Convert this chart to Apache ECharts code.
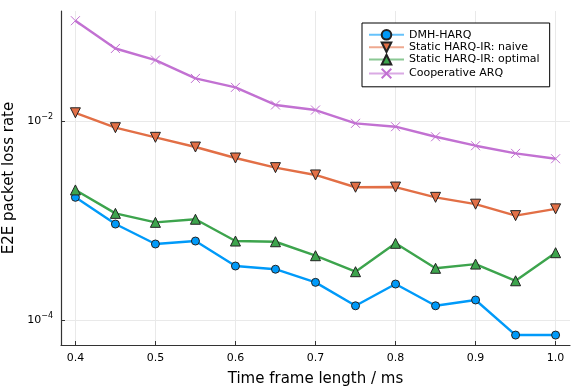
<!DOCTYPE html>
<html>
<head>
<meta charset="utf-8">
<script src="https://cdn.jsdelivr.net/npm/echarts@6/dist/echarts.min.js"></script>
<style>
  html, body { margin: 0; padding: 0; background: #fff; }
  #chart { width: 581px; height: 388px; }
</style>
</head>
<body>
<div id="chart"></div>
<script>
const frameLen = [0.4, 0.45, 0.5, 0.55, 0.6, 0.65, 0.7, 0.75, 0.8, 0.85, 0.9, 0.95, 1.0];

const dmhHarq = [0.00171, 0.000922, 0.000581, 0.000622, 0.000349, 0.000324, 0.000239,
    0.000139, 0.000230, 0.000139, 0.000159, 0.0000706, 0.0000706];
const staticNaive = [0.0121, 0.00857, 0.00686, 0.00548, 0.00425, 0.00340, 0.00287,
    0.00216, 0.00217, 0.00171, 0.00146, 0.00112, 0.00131];
const staticOptimal = [0.00203, 0.00118, 0.000959, 0.00103, 0.000622, 0.000612, 0.000443,
    0.000306, 0.000590, 0.000331, 0.000365, 0.000248, 0.000475];
const coopArq = [0.1019, 0.0536, 0.0410, 0.0268, 0.0218, 0.0145, 0.0129,
    0.00948, 0.00877, 0.00695, 0.00565, 0.00473, 0.00418];

const xTicks = [0.4, 0.5, 0.6, 0.7, 0.8, 0.9, 1.0];
const yTicks = [1e-4, 1e-2];

const names = ['DMH-HARQ', 'Static HARQ-IR: naive', 'Static HARQ-IR: optimal', 'Cooperative ARQ'];
const colors = ['#009af9', '#e26f46', '#3da44d', '#c271d2'];

const font = '"DejaVu Sans", sans-serif';
const crossPath = 'path://M0,0L10,10M10,0L0,10';

function toPairs(ys) {
    return frameLen.map((x, i) => [x, ys[i]]);
}

function makeSeries(idx, ys, symbol, size, extra) {
    return Object.assign({
        name: names[idx],
        type: 'line',
        data: toPairs(ys),
        symbol: symbol,
        symbolSize: size,
        showAllSymbol: true,
        lineStyle: { color: colors[idx], width: 2.4 },
        itemStyle: { color: colors[idx], borderColor: '#222', borderWidth: 1 },
        emphasis: { disabled: true },
        animation: false
    }, extra || {});
}

const chart = echarts.init(document.getElementById('chart'), null, { renderer: 'canvas' });

const option = {
    backgroundColor: '#fff',
    animation: false,
    grid: { left: 61, right: 11, top: 11, bottom: 43, outerBoundsMode: 'none', containLabel: false },
    legend: {
        left: 362,
        top: 23,
        orient: 'vertical',
        data: names,
        itemWidth: 35,
        itemHeight: 12,
        itemGap: 0.8,
        padding: [6, 10, 6, 6],
        borderColor: '#000',
        borderWidth: 1,
        borderRadius: 0,
        backgroundColor: '#fff',
        lineStyle: { opacity: 0.6 },
        textStyle: { fontFamily: font, fontSize: 11, color: '#000' }
    },
    xAxis: {
        type: 'value',
        min: 0.382,
        max: 1.018,
        name: 'Time frame length / ms',
        nameLocation: 'middle',
        nameGap: 27,
        nameTextStyle: { fontFamily: font, fontSize: 15, color: '#000' },
        axisLine: { show: true, onZero: false, lineStyle: { color: '#333', width: 1.2 } },
        axisTick: { show: true, inside: true, length: 4, customValues: xTicks, lineStyle: { color: '#333' } },
        axisLabel: {
            customValues: xTicks,
            fontFamily: font, fontSize: 11, color: '#000', margin: 8,
            formatter: v => v.toFixed(1)
        },
        splitLine: { show: true, lineStyle: { color: '#e9e9e9', width: 1 } }
    },
    yAxis: {
        type: 'log',
        min: 5.61e-5,
        max: 0.1276,
        name: 'E2E packet loss rate',
        nameLocation: 'middle',
        nameGap: 36,
        nameTextStyle: { fontFamily: font, fontSize: 15, color: '#000' },
        axisLine: { show: true, onZero: false, lineStyle: { color: '#333', width: 1.2 } },
        axisTick: { show: true, inside: true, length: 4, customValues: yTicks, lineStyle: { color: '#333' } },
        axisLabel: {
            customValues: yTicks,
            margin: 8,
            formatter: v => '{b|10}{s|\u2212' + Math.round(-Math.log10(v)) + '}',
            rich: {
                b: { fontFamily: font, fontSize: 11, color: '#000' },
                s: { fontFamily: font, fontSize: 8, color: '#000', verticalAlign: 'top', padding: [0, 0, 8, 0] }
            }
        },
        splitLine: { show: true, lineStyle: { color: '#e9e9e9', width: 1 } }
    },
    series: [
        makeSeries(0, dmhHarq, 'circle', 8),
        makeSeries(1, staticNaive, 'triangle', 10, { symbolRotate: 180 }),
        makeSeries(2, staticOptimal, 'triangle', 10),
        makeSeries(3, coopArq, crossPath, 9, {
            itemStyle: { color: 'none', borderColor: colors[3], borderWidth: 1 }
        })
    ]
};

chart.setOption(option);
</script>
</body>
</html>
